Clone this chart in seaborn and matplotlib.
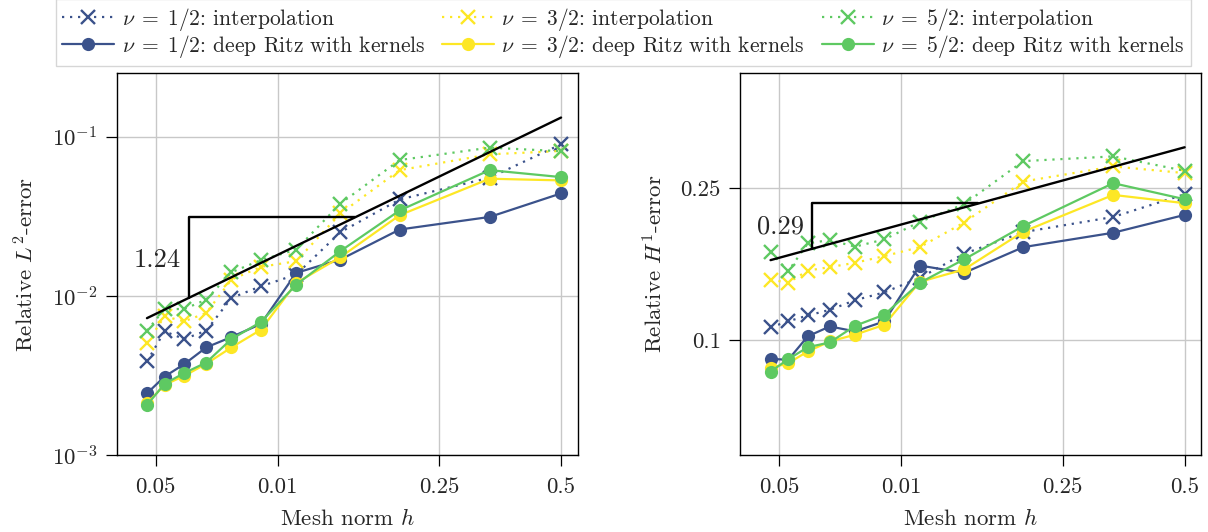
import numpy as np
import pandas as pd
import matplotlib

matplotlib.use("Agg")
import matplotlib.pyplot as plt
import matplotlib.ticker as mticker
import seaborn as sns

# mesh norms h = 1/21 ... 1/2
mesh_h = [1/21, 1/19, 1/17, 1/15, 1/13, 1/11, 1/9, 1/7, 1/5, 1/3, 1/2]
nu_labels = ["1/2", "3/2", "5/2"]
nu_colors = ["#3b528b", "#fde725", "#5ec962"]

# relative L2 errors
l2_interp_12 = [0.00387, 0.00598, 0.00535, 0.00604, 0.00969, 0.01148, 0.0136, 0.0251, 0.0403, 0.0552, 0.0895]
l2_interp_32 = [0.00505, 0.00743, 0.00691, 0.00780, 0.01264, 0.0152, 0.0165, 0.0329, 0.0616, 0.0774, 0.0813]
l2_interp_52 = [0.00604, 0.00826, 0.00826, 0.00946, 0.01406, 0.01676, 0.0195, 0.0380, 0.0713, 0.0853, 0.0810]
l2_ritz_12 = [0.00244, 0.00311, 0.00372, 0.00474, 0.00551, 0.00665, 0.01393, 0.0169, 0.0261, 0.0313, 0.0440]
l2_ritz_32 = [0.00211, 0.00276, 0.00314, 0.00374, 0.00474, 0.00612, 0.01205, 0.0175, 0.0321, 0.0544, 0.0531]
l2_ritz_52 = [0.00206, 0.00280, 0.00327, 0.00381, 0.00535, 0.00684, 0.01175, 0.0191, 0.0344, 0.0616, 0.0557]

# relative H1 errors
h1_interp_12 = [0.108, 0.112, 0.116, 0.120, 0.1272, 0.1334, 0.1456, 0.1683, 0.1918, 0.2102, 0.241]
h1_interp_32 = [0.1441, 0.1413, 0.1521, 0.1553, 0.1594, 0.166, 0.1752, 0.2032, 0.2603, 0.2851, 0.2739]
h1_interp_52 = [0.170, 0.1516, 0.1792, 0.1829, 0.1757, 0.1836, 0.204, 0.227, 0.2944, 0.3029, 0.2777]
h1_ritz_12 = [0.0893, 0.0888, 0.1023, 0.1086, 0.1054, 0.1120, 0.1568, 0.150, 0.1752, 0.1911, 0.2128]
h1_ritz_32 = [0.0844, 0.0870, 0.0934, 0.0992, 0.1033, 0.1097, 0.1421, 0.1531, 0.1923, 0.2401, 0.2284]
h1_ritz_52 = [0.0827, 0.0891, 0.0958, 0.0986, 0.109, 0.1166, 0.1413, 0.1627, 0.199, 0.2577, 0.2339]

# reference rate lines (values at h=1/21 and h=1/2) and triangle corners
rate_h = [1/21, 1/2]
l2_rate_line = [0.00724, 0.1318]
h1_rate_line = [0.162, 0.320]
tri_h = [0.0604, 0.155]

x_ticks = [0.05, 0.1, 0.25, 0.5]
x_tick_labels = ["0.05", "0.01", "0.25", "0.5"]

sns.set_theme(style="whitegrid")
plt.rcParams["font.family"] = ["cmr10", "DejaVu Serif"]
plt.rcParams["mathtext.fontset"] = "cm"
plt.rcParams["axes.formatter.use_mathtext"] = True
plt.rcParams["axes.unicode_minus"] = False

fig = plt.figure(figsize=(12.08, 5.32), dpi=100)
ax_l2 = fig.add_axes([116.7 / 1208, 1 - 455 / 532, 461 / 1208, 381.7 / 532])
ax_h1 = fig.add_axes([740.3 / 1208, 1 - 455 / 532, 461 / 1208, 381.7 / 532])


def draw_panel(ax, interp, ritz, line_vals, rate_text, text_y, ylabel):
    handles = {}
    for vals, nu, col in zip(interp, nu_labels, nu_colors):
        df = pd.DataFrame({"h": mesh_h, "err": vals})
        sns.lineplot(data=df, x="h", y="err", ax=ax, color=col, marker="x",
                     linestyle=(0, (1, 2.6)), lw=1.6, markersize=10, mew=1.7, mec=col,
                     legend=False, label=rf"$\nu\;=\;{nu}$: interpolation")
        handles["i" + nu] = ax.lines[-1]
    for vals, nu, col in zip(ritz, nu_labels, nu_colors):
        df = pd.DataFrame({"h": mesh_h, "err": vals})
        sns.lineplot(data=df, x="h", y="err", ax=ax, color=col, marker="o",
                     linestyle="-", lw=1.6, markersize=9.5, mew=0, mec=col,
                     legend=False, label=rf"$\nu\;=\;{nu}$: deep Ritz with kernels")
        handles["r" + nu] = ax.lines[-1]

    # rate line through the two read end values
    rate = np.log(line_vals[1] / line_vals[0]) / np.log(rate_h[1] / rate_h[0])
    ax.plot(rate_h, line_vals, color="black", lw=1.7, zorder=10)
    y_tri = [line_vals[1] * (t / rate_h[1]) ** rate for t in tri_h]
    ax.plot([tri_h[0], tri_h[0], tri_h[1]], [y_tri[0], y_tri[1], y_tri[1]],
            color="black", lw=1.7, zorder=10)
    ax.annotate(rate_text, (tri_h[0], text_y), xytext=(-6, 0), textcoords="offset points",
                ha="right", va="center", fontsize=19)

    ax.set_xscale("log")
    ax.set_yscale("log")
    ax.set_xlim(0.0401, 0.5496)
    ax.set_xticks(x_ticks)
    ax.set_xticklabels(x_tick_labels)
    ax.xaxis.set_minor_locator(mticker.NullLocator())
    ax.yaxis.set_minor_locator(mticker.NullLocator())
    ax.set_xlabel(r"Mesh norm $h$", fontsize=16.5, labelpad=8)
    ax.set_ylabel(ylabel, fontsize=16.5, labelpad=10)
    ax.tick_params(axis="both", which="major", labelsize=16.5, length=8, width=0.9,
                   color="black", bottom=True, left=True)
    ax.tick_params(axis="x", pad=8)
    ax.tick_params(axis="y", pad=6)
    ax.grid(True, which="major", color="#c8c8c8", lw=1.0)
    for sp in ax.spines.values():
        sp.set_color("black")
        sp.set_linewidth(1.0)
    return handles


hl = draw_panel(ax_l2, [l2_interp_12, l2_interp_32, l2_interp_52],
                [l2_ritz_12, l2_ritz_32, l2_ritz_52], l2_rate_line, "1.24", 0.0168,
                r"Relative $L^2$-error")
ax_l2.set_ylim(1e-3, 0.25)
ax_l2.set_yticks([1e-3, 1e-2, 1e-1])
ax_l2.yaxis.set_major_formatter(mticker.LogFormatterSciNotation())
ax_l2.yaxis.set_minor_locator(mticker.NullLocator())

draw_panel(ax_h1, [h1_interp_12, h1_interp_32, h1_interp_52],
           [h1_ritz_12, h1_ritz_32, h1_ritz_52], h1_rate_line, "0.29", 0.198,
           r"Relative $H^1$-error")
ax_h1.set_ylim(0.05, 0.5)
ax_h1.set_yticks([0.1, 0.25])
ax_h1.set_yticklabels(["0.1", "0.25"])
ax_h1.yaxis.set_minor_locator(mticker.NullLocator())

order = ["i1/2", "r1/2", "i3/2", "r3/2", "i5/2", "r5/2"]
leg_handles = [hl[k] for k in order]
leg = fig.legend(leg_handles, [h.get_label() for h in leg_handles], ncol=3,
                 loc="lower center", bbox_to_anchor=(623.5 / 1208, 1 - 66 / 532),
                 fontsize=15.5, handlelength=2.4, handletextpad=0.35, columnspacing=0.8,
                 labelspacing=0.0, borderpad=0.3, borderaxespad=0.0,
                 frameon=True, fancybox=False)
leg.get_frame().set_edgecolor("#cccccc")
leg.get_frame().set_linewidth(1.0)

fig.savefig("out.png", dpi=100)
